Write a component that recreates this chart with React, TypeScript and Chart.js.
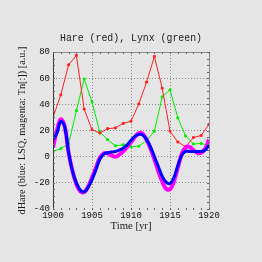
import React, { useEffect, useRef } from "react";
import { Chart, registerables } from "chart.js";

Chart.register(...registerables);

// Annual data (Hudson's Bay hare / lynx), 1900-1920
const years = [1900, 1901, 1902, 1903, 1904, 1905, 1906, 1907, 1908, 1909, 1910, 1911, 1912, 1913, 1914, 1915, 1916, 1917, 1918, 1919, 1920];
const hare = [30, 47.2, 70.2, 77.4, 36.3, 20.6, 18.1, 21.4, 22, 25.4, 27.1, 40.3, 57, 76.6, 52.3, 19.5, 11.2, 7.6, 14.6, 16.2, 24.7];
const lynx = [4, 6.1, 9.8, 35.2, 59.4, 41.7, 19, 13, 8.3, 9.1, 7.4, 8, 12.3, 19.5, 45.7, 51.1, 29.7, 15.8, 9.7, 10.1, 8.6];

// Fitted derivative curves, sampled every half year
const fitTimes = [1900, 1900.5, 1901, 1901.5, 1902, 1902.5, 1903, 1903.5, 1904, 1904.5, 1905, 1905.5, 1906, 1906.5, 1907, 1907.5, 1908, 1908.5, 1909, 1909.5, 1910, 1910.5, 1911, 1911.5, 1912, 1912.5, 1913, 1913.5, 1914, 1914.5, 1915, 1915.5, 1916, 1916.5, 1917, 1917.5, 1918, 1918.5, 1919, 1919.5, 1920];
const lsq = [13, 18, 27, 23, 3, -11, -20, -25.5, -27, -23.5, -17.5, -10, -2, 2, 3, 3.5, 4, 5, 6.5, 9, 12.5, 15.5, 17, 16.5, 13, 7.5, 0, -7.5, -15, -19.5, -20.5, -16, -7, 1, 4, 4, 4, 4, 4, 5, 9];
const tn = [7, 20, 28.5, 23, 3, -11, -21, -26.5, -27, -23, -16, -8.5, -1, 2.5, 2.5, 1, 0, 1.5, 4, 7.5, 11, 15, 18, 17.5, 13, 6, -2, -11, -19, -24.5, -25, -19, -8.5, 2, 7, 7.5, 5, 3, 3, 6, 13];

const yTicks = [-40, -20, 0, 20, 40, 60, 80];
const xTicks = [1900, 1905, 1910, 1915, 1920];

const TITLE = "Hare (red), Lynx (green)";
const Y_TITLE = "dHare (blue: LSQ, magenta: Tn[:]) [a.u.]";
const X_TITLE = "Time [yr]";

function drawFitted(ctx: CanvasRenderingContext2D, text: string, x: number, y: number, width: number, font: string, rot: number) {
  ctx.save();
  ctx.translate(x, y);
  ctx.rotate(rot);
  ctx.font = font;
  const w = ctx.measureText(text).width;
  ctx.scale(width / w, 1);
  ctx.textAlign = "center";
  ctx.textBaseline = "middle";
  ctx.fillStyle = "#1a1a1a";
  ctx.fillText(text, 0, 0);
  ctx.restore();
}

const decor = {
  id: "decor",
  afterDatasetsDraw(chart: any) {
    const { ctx, chartArea: a, scales } = chart;
    const xs = scales.x;
    const ys = scales.y;
    ctx.save();
    // frame
    ctx.lineWidth = 1;
    ctx.strokeStyle = "#8a8a8a";
    ctx.beginPath();
    ctx.moveTo(a.left, a.top + 0.5);
    ctx.lineTo(a.right + 0.5, a.top + 0.5);
    ctx.lineTo(a.right + 0.5, a.bottom);
    ctx.stroke();
    ctx.strokeStyle = "#333";
    ctx.beginPath();
    ctx.moveTo(a.left + 0.5, a.top);
    ctx.lineTo(a.left + 0.5, a.bottom + 1);
    ctx.stroke();
    // minor x ticks (every year) top & bottom
    ctx.strokeStyle = "#666";
    for (const yr of years) {
      const px = Math.round(xs.getPixelForValue(yr)) + 0.5;
      ctx.beginPath();
      ctx.moveTo(px, a.bottom - 1);
      ctx.lineTo(px, a.bottom + 1);
      ctx.moveTo(px, a.top);
      ctx.lineTo(px, a.top + 2);
      ctx.stroke();
    }
    // minor y ticks (every 5) left & right
    for (let v = ys.min; v <= ys.max; v += 5) {
      const py = Math.round(ys.getPixelForValue(v)) + 0.5;
      ctx.beginPath();
      ctx.moveTo(a.left, py);
      ctx.lineTo(a.left + 2, py);
      ctx.moveTo(a.right - 2, py);
      ctx.lineTo(a.right, py);
      ctx.stroke();
    }
    ctx.restore();
    // texts
    const cx = (a.left + a.right) / 2;
    drawFitted(ctx, TITLE, cx, 38, 142, "10px 'Liberation Mono'", 0);
    drawFitted(ctx, X_TITLE, cx, 226.5, 41, "10px 'Liberation Serif'", 0);
    drawFitted(ctx, Y_TITLE, 22, (a.top + a.bottom) / 2, 168, "9.5px 'Liberation Serif'", -Math.PI / 2);
  },
};

export default function App() {
  const ref = useRef<HTMLCanvasElement | null>(null);

  useEffect(() => {
    if (!ref.current) return;
    const pts = (xsArr: number[], ysArr: number[]) => xsArr.map((x, i) => ({ x, y: ysArr[i] }));
    const chart = new Chart(ref.current, {
      type: "scatter",
      data: {
        datasets: [
          {
            label: "LSQ",
            data: pts(fitTimes, lsq),
            showLine: true,
            borderColor: "#0000ff",
            backgroundColor: "#0000ff",
            borderWidth: 3,
            pointRadius: 0,
            tension: 0.4,
            order: 1,
          },
          {
            label: "Tn",
            data: pts(fitTimes, tn),
            showLine: true,
            borderColor: "#ff00ff",
            backgroundColor: "#ff00ff",
            borderWidth: 4,
            pointRadius: 0,
            tension: 0.4,
            order: 2,
          },
          {
            label: "Hare",
            data: pts(years, hare),
            showLine: true,
            borderColor: "#ff2020",
            backgroundColor: "#ff2020",
            borderWidth: 1,
            pointRadius: 1.3,
            pointStyle: "rect",
            order: 3,
          },
          {
            label: "Lynx",
            data: pts(years, lynx),
            showLine: true,
            borderColor: "#00ee00",
            backgroundColor: "#00ee00",
            borderWidth: 1,
            pointRadius: 1.3,
            pointStyle: "rect",
            order: 4,
          },
        ],
      },
      options: {
        animation: false,
        responsive: false,
        devicePixelRatio: 1,
        layout: { padding: { top: 52, right: 53, left: 0, bottom: 0 } },
        plugins: { legend: { display: false }, tooltip: { enabled: false }, title: { display: false } },
        scales: {
          x: {
            type: "linear",
            min: 1900,
            max: 1920,
            afterBuildTicks: (s: any) => {
              s.ticks = xTicks.map((v) => ({ value: v }));
            },
            afterFit: (s: any) => {
              s.height = 53;
            },
            ticks: {
              padding: 1,
              color: "#111",
              font: { family: "'Liberation Mono'", size: 9 },
              maxRotation: 0,
              autoSkip: false,
              callback: (v: any) => String(v),
            },
            grid: {
              drawTicks: false,
              lineWidth: 1,
              color: (c: any) => (c.tick && (c.tick.value === 1900 || c.tick.value === 1920) ? "rgba(0,0,0,0)" : "#8c8c8c"),
            },
            border: { display: false, dash: [1, 2] },
          },
          y: {
            type: "linear",
            min: -40,
            max: 80,
            afterBuildTicks: (s: any) => {
              s.ticks = yTicks.map((v) => ({ value: v }));
            },
            afterFit: (s: any) => {
              s.width = 53;
            },
            ticks: {
              padding: 3,
              color: "#111",
              font: { family: "'Liberation Mono'", size: 9 },
              autoSkip: false,
              callback: (v: any) => String(v),
            },
            grid: {
              drawTicks: false,
              lineWidth: 1,
              color: (c: any) => (c.tick && (c.tick.value === -40 || c.tick.value === 80) ? "rgba(0,0,0,0)" : "#8c8c8c"),
            },
            border: { display: false, dash: [1, 2] },
          },
        },
      },
      plugins: [decor],
    });
    return () => chart.destroy();
  }, []);

  return (
    <div style={{ position: "absolute", left: 0, top: 0, width: 262, height: 262, background: "#e5e5e5" }}>
      <canvas ref={ref} width={262} height={262} style={{ display: "block", width: 262, height: 262 }} />
    </div>
  );
}
